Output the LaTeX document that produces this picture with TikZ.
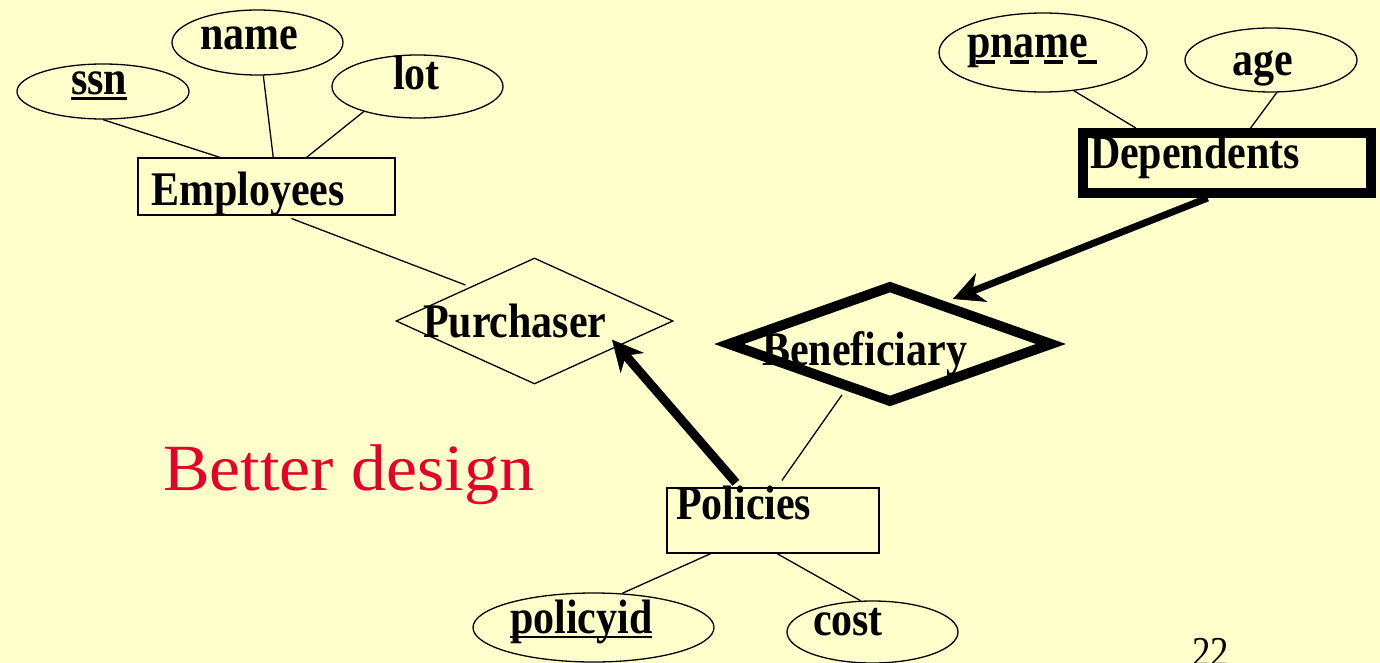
\documentclass[tikz,border=0pt]{standalone}
\usepackage{graphicx}
\usepackage{fontspec}
\setmainfont{Liberation Serif}
\usetikzlibrary{shapes.geometric,arrows.meta}
\definecolor{bg}{HTML}{FFFFCC}
\definecolor{redtxt}{RGB}{230,0,40}
\newcommand{\lbl}[1]{\scalebox{1}[1.15]{\bfseries\fontsize{42}{50}\selectfont #1}}
\begin{document}
\begin{tikzpicture}[x=1pt,y=-1pt,
  attr/.style={draw, ellipse, line width=1.3pt, inner sep=0pt},
  ent/.style={draw, rectangle, line width=1.3pt, inner sep=0pt},
  rel/.style={draw, diamond, line width=1.3pt, inner sep=0pt},
  txt/.style={anchor=base west, inner sep=0pt, outer sep=0pt},
  link/.style={line width=1.3pt},
  heavy/.style={line width=9pt, -{Stealth[length=31pt,width=31pt,inset=10pt,line width=0.5pt]}},
]
\fill[bg] (0,0) rectangle (1380,663);
\useasboundingbox (0,0) rectangle (1380,663);

% shapes
\node[attr, minimum width=172, minimum height=55] (ssn) at (103,91.5) {};
\node[attr, minimum width=171, minimum height=65] (name) at (257.5,42.5) {};
\node[attr, minimum width=171, minimum height=63] (lot) at (417.5,86.5) {};
\node[ent, minimum width=257, minimum height=57] (emp) at (266.5,186.5) {};
\node[rel, minimum width=277, minimum height=126] (purch) at (534.5,321) {};
\node[rel, line width=10pt, minimum width=326, minimum height=118] (ben) at (890,344) {};
\node[ent, line width=10pt, minimum width=288, minimum height=60] (dep) at (1227,163) {};
\node[attr, minimum width=208, minimum height=79] (pname) at (1043,52.5) {};
\node[attr, minimum width=172, minimum height=64] (age) at (1271,60) {};
\node[ent, minimum width=212, minimum height=65] (pol) at (773,520.5) {};
\node[attr, minimum width=241, minimum height=69] (pid) at (593.5,627.5) {};
\node[attr, minimum width=171, minimum height=62] (cost) at (872.5,632) {};

% texts
\node[txt] (tssn) at (71,95) {\lbl{ssn}};
\node[txt] (tname) at (200,50) {\lbl{name}};
\node[txt] (tlot) at (393,90) {\lbl{lot}};
\node[txt] (temp) at (151,205) {\lbl{Employees}};
\node[txt] (tpur) at (423,337) {\lbl{Purchaser}};
\node[txt] (tben) at (762,365) {\lbl{Beneficiary}};
\node[txt] (tdep) at (1090,168) {\lbl{Dependents}};
\node[txt] (tpn) at (967,58) {\lbl{pname}};
\node[txt] (tage) at (1232,76) {\lbl{age}};
\node[txt] (tpol) at (676,519) {\lbl{Policies}};
\node[txt] (tpid) at (510,633) {\lbl{policyid}};
\node[txt] (tcost) at (813,635) {\lbl{cost}};
\node[txt, text=redtxt] (tbetter) at (163,490) {\scalebox{1.06}[1]{\fontsize{66}{76}\selectfont Better design}};
\node[txt] (tnum) at (1192,666) {\scalebox{1}[1.15]{\fontsize{37}{44}\selectfont 22}};

% key underlines
\draw[line width=3pt] ([yshift=-3.5pt]tssn.base west) -- ([yshift=-3.5pt]tssn.base east);
\draw[line width=2.5pt] ([yshift=-4pt]tpid.base west) -- ([yshift=-4pt]tpid.base east);
\draw[line width=4pt, dash pattern=on 19pt off 15pt] ([xshift=9pt,yshift=-4pt]tpn.base west) -- ([xshift=14pt,yshift=-4pt]tpn.base east);

% connectors
\draw[link] (ssn.south) -- (emp.148.5);
\draw[link] (name.-80) -- (emp.77.6);
\draw[link] (lot.-155) -- (emp.36.5);
\draw[link, shorten <=8pt, shorten >=5pt] (emp.-59.5) -- (purch.152.6);
\draw[link, shorten <=5pt, shorten >=8.5pt] (ben.-134.4) -- (pol.83.1);
\draw[heavy, shorten <=6pt, shorten >=-9pt] (pol.135.4) -- (purch.-17.4);
\draw[heavy, line width=7pt, shorten >=7pt] (dep.-119.7) -- (ben.37.2);
\draw[link] (pname.-51.9) -- (dep.159.6);
\draw[link] (age.-80) -- (dep.56.7);
\draw[link] (pol.-152.7) -- (pid.50.6);
\draw[link] (pol.-83) -- (cost.111);
\end{tikzpicture}
\end{document}
